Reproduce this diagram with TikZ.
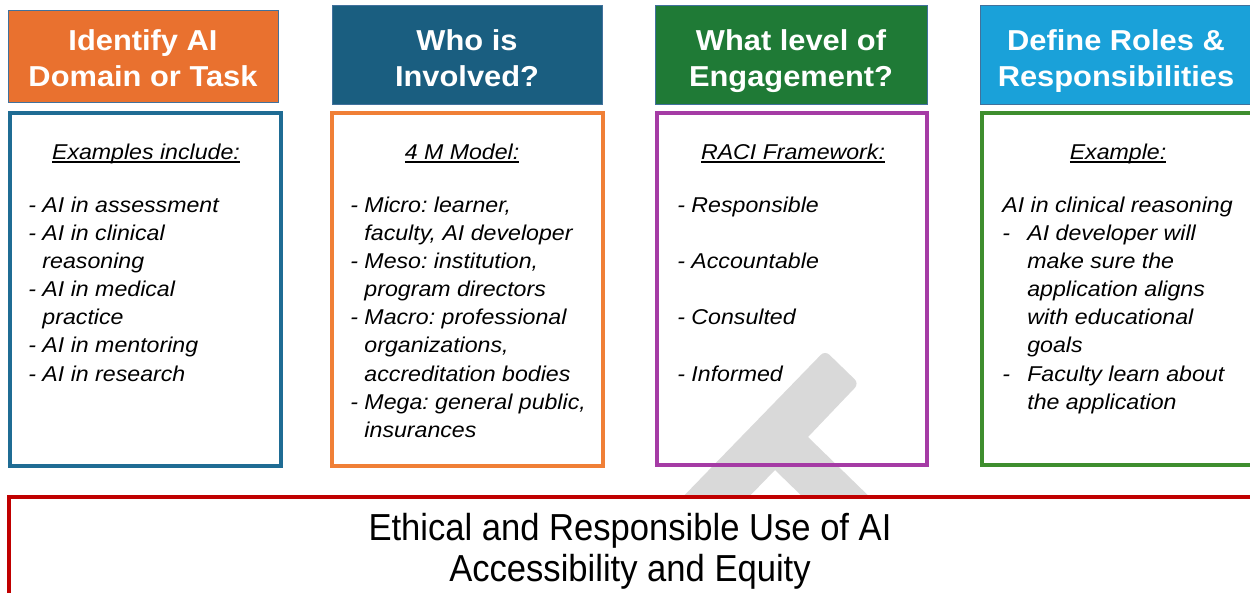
\documentclass[tikz,border=0pt]{standalone}
\usepackage{fontspec}
\setmainfont{Liberation Sans}
\newfontfamily\headfont[FakeStretch=1.07]{Liberation Sans}
\newfontfamily\listfont[FakeStretch=1.08]{Liberation Sans}
\newfontfamily\footfont[FakeStretch=0.92]{Liberation Sans}
\frenchspacing

\definecolor{orangehd}{HTML}{E9712F}
\definecolor{tealhd}{HTML}{1A5E80}
\definecolor{greenhd}{HTML}{1F7A36}
\definecolor{skyhd}{HTML}{1AA1D9}
\definecolor{headrule}{HTML}{41719C}
\definecolor{blueframe}{HTML}{1F6C94}
\definecolor{orangeframe}{HTML}{F07F36}
\definecolor{purpleframe}{HTML}{A53BA5}
\definecolor{greenframe}{HTML}{3E8E2E}
\definecolor{redframe}{HTML}{C00000}
\definecolor{wmgray}{HTML}{D9D9D9}

\newcommand{\cont}{\hphantom{- }}
\newcommand{\tabdash}{\makebox[0.5cm][l]{-}}
% underline at a fixed depth
\newcommand{\uln}[1]{\setbox0\hbox{#1}\rlap{\rule[-0.17em]{\wd0}{0.07em}}\box0}
% two header lines with struts, so every header sits at the same height
\newcommand{\twolines}[2]{\strut#1\\#2\strut}

\tikzset{
  head/.style={draw=headrule, line width=0.5pt, inner sep=0pt,
    minimum width=5.4cm, minimum height=1.98cm},
  headtext/.style={text=white, align=center, inner sep=0pt,
    font=\headfont\bfseries\fontsize{16.4}{20.4}\selectfont},
  panel/.style={line width=2.2pt},
  listhead/.style={anchor=base, inner sep=0pt,
    font=\listfont\itshape\fontsize{12.2}{16}\selectfont},
  listtext/.style={anchor=north west, align=left, inner sep=0pt,
    font=\listfont\itshape\fontsize{12.2}{16}\selectfont},
}

\begin{document}
\begin{tikzpicture}[x=0.02cm, y=-0.02cm]
    \useasboundingbox (0,0) rectangle (1250,592);
    \clip (0,0) rectangle (1250,592);

    % grey T in the background
    \fill[wmgray] (825,350.5) [rounded corners=0.12cm] -- (859,383.5) [sharp corners]
        -- (808,437) -- (880,507) -- (847,540) -- (775,470)
        -- (691,556.5) -- (657,523.5) [rounded corners=0.12cm] -- cycle;

    % column headers
    \node[head, fill=orangehd, minimum height=1.84cm] (domain) at (143,56) {};
    \node[head, fill=tealhd] (involved) at (467,54.5) {};
    \node[head, fill=greenhd, minimum width=5.44cm] (engage) at (791,54.5) {};
    \node[head, fill=skyhd, minimum width=5.44cm] (roles) at (1116,54.5) {};
    \node[headtext] (domaintext) at (143,61.3) {\twolines{Identify AI}{Domain or Task}};
    \node[headtext] (involvedtext) at (467,61.3) {\twolines{Who is}{Involved?}};
    \node[headtext] (engagetext) at (791,61.3) {\twolines{What level of}{Engagement?}};
    \node[headtext] (rolestext) at (1116,61.3) {\twolines{Define Roles \&}{Responsibilities}};

    % frames under the headers
    \draw[panel, blueframe] (10,113) rectangle (281,466);
    \draw[panel, orangeframe] (332,113) rectangle (603,466);
    \draw[panel, purpleframe] (657,113) rectangle (927,465);
    \draw[panel, greenframe] (982,113) rectangle (1256,465);

    % column 1
    \node[listhead] (ex) at (146,159) {\uln{Examples include:}};
    \node[listtext] (exlist) at (28,192.3) {\strut- AI in assessment\\
        - AI in clinical\\ \cont reasoning\\
        - AI in medical\\ \cont practice\\
        - AI in mentoring\\
        - AI in research};

    % column 2
    \node[listhead] (model) at (462,159) {\uln{4 M Model:}};
    \node[listtext] (modellist) at (350,192.3) {\strut- Micro: learner,\\
        \cont faculty, AI developer\\
        - Meso: institution,\\ \cont program directors\\
        - Macro: professional\\ \cont organizations,\\
        \cont accreditation bodies\\
        - Mega: general public,\\ \cont insurances};

    % column 3
    \node[listhead] (raci) at (793,159) {\uln{RACI Framework:}};
    \node[listtext] (racilist) at (677,192.3) {\strut- Responsible\\[16pt]
        - Accountable\\[16pt]
        - Consulted\\[16pt]
        - Informed};

    % column 4
    \node[listhead] (example) at (1118,159) {\uln{Example:}};
    \node[listtext] (examplelist) at (1002,192.3) {\strut AI in clinical reasoning\\
        \tabdash AI developer will\\ \hspace*{0.5cm}make sure the\\
        \hspace*{0.5cm}application aligns\\ \hspace*{0.5cm}with educational\\
        \hspace*{0.5cm}goals\\
        \tabdash Faculty learn about\\ \hspace*{0.5cm}the application};

    % bottom band
    \draw[line width=2.2pt, redframe, fill=white] (9,497) rectangle (1262,610);
    \node[anchor=north, align=center, inner sep=0pt,
        font=\footfont\fontsize{21.4}{23.3}\selectfont] (ethics) at (630,511.3)
        {\strut Ethical and Responsible Use of AI\\Accessibility and Equity};
\end{tikzpicture}
\end{document}
